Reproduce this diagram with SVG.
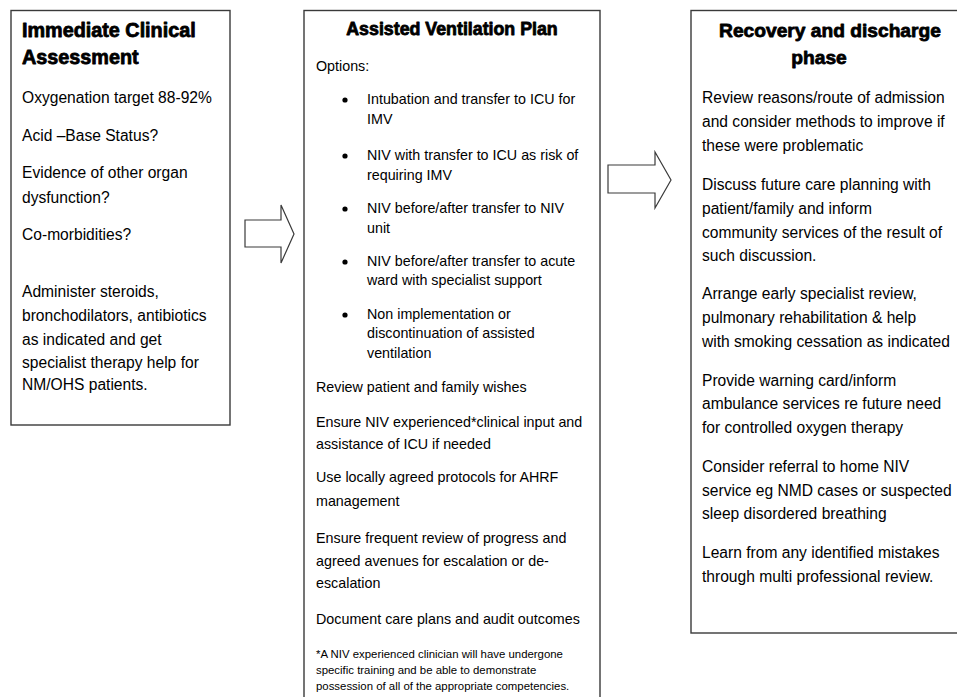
<svg xmlns="http://www.w3.org/2000/svg" width="957" height="697" viewBox="0 0 957 697">
<style>
.box{fill:#fff;stroke:#3a3a3a;stroke-width:1.4}
.arrow{fill:#fff;stroke:#3a3a3a;stroke-width:1.2;stroke-linejoin:miter}
.t{font-family:"Liberation Sans",Arial,sans-serif;font-weight:bold;fill:#000;stroke:#000;stroke-width:0.8;stroke-linejoin:round}
.b1{font-family:"Liberation Sans",Arial,sans-serif;font-size:15.6px;fill:#000}
.b2{font-family:"Liberation Sans",Arial,sans-serif;font-size:14.3px;fill:#000}
.fn{font-family:"Liberation Sans",Arial,sans-serif;font-size:11.4px;fill:#000}
</style>
<rect width="957" height="697" fill="#fff"/>
<g id="connectors">
<polygon class="arrow" points="245,220 281,220 281,205 294,234 281,263 281,247 245,247"/>
<polygon class="arrow" points="608,165 655,165 655,152 671,180 655,208 655,193 608,193"/>
</g>
<g id="assessment">
<rect class="box" x="11" y="10.5" width="219" height="414.5"/>
<text class="t" font-size="19.8" x="22" y="37">Immediate Clinical</text>
<text class="t" font-size="19.8" x="22" y="64">Assessment</text>
<text class="b1" x="22" y="103">Oxygenation target 88-92%</text>
<text class="b1" x="22" y="141">Acid –Base Status?</text>
<text class="b1" x="22" y="178">Evidence of other organ</text>
<text class="b1" x="22" y="203">dysfunction?</text>
<text class="b1" x="22" y="240">Co-morbidities?</text>
<text class="b1" x="22" y="297">Administer steroids,</text>
<text class="b1" x="22" y="321">bronchodilators, antibiotics</text>
<text class="b1" x="22" y="345">as indicated and get</text>
<text class="b1" x="22" y="368">specialist therapy help for</text>
<text class="b1" x="22" y="390">NM/OHS patients.</text>
</g>
<g id="ventilation">
<rect class="box" x="304" y="10.5" width="296" height="700"/>
<text class="t" font-size="17.8" x="452" y="35" text-anchor="middle">Assisted Ventilation Plan</text>
<text class="b2" x="316" y="71">Options:</text>
<g fill="#000">
<circle cx="345" cy="100" r="2.6"/>
<circle cx="345" cy="156" r="2.6"/>
<circle cx="345" cy="209" r="2.6"/>
<circle cx="345" cy="262" r="2.6"/>
<circle cx="345" cy="315" r="2.6"/>
</g>
<text class="b2" x="367" y="104">Intubation and transfer to ICU for</text>
<text class="b2" x="367" y="124">IMV</text>
<text class="b2" x="367" y="160">NIV with transfer to ICU as risk of</text>
<text class="b2" x="367" y="180">requiring IMV</text>
<text class="b2" x="367" y="213">NIV before/after transfer to NIV</text>
<text class="b2" x="367" y="233">unit</text>
<text class="b2" x="367" y="266">NIV before/after transfer to acute</text>
<text class="b2" x="367" y="285">ward with specialist support</text>
<text class="b2" x="367" y="319">Non implementation or</text>
<text class="b2" x="367" y="338">discontinuation of assisted</text>
<text class="b2" x="367" y="358">ventilation</text>
<text class="b2" x="316" y="392">Review patient and family wishes</text>
<text class="b2" x="316" y="427">Ensure NIV experienced*clinical input and</text>
<text class="b2" x="316" y="449">assistance of ICU if needed</text>
<text class="b2" x="316" y="482">Use locally agreed protocols for AHRF</text>
<text class="b2" x="316" y="506">management</text>
<text class="b2" x="316" y="543">Ensure frequent review of progress and</text>
<text class="b2" x="316" y="566">agreed avenues for escalation or de-</text>
<text class="b2" x="316" y="588">escalation</text>
<text class="b2" x="316" y="624">Document care plans and audit outcomes</text>
<text class="fn" x="316" y="658">*A NIV experienced clinician will have undergone</text>
<text class="fn" x="316" y="674">specific training and be able to demonstrate</text>
<text class="fn" x="316" y="690">possession of all of the appropriate competencies.</text>
</g>
<g id="recovery">
<rect class="box" x="691" y="10.5" width="280" height="622.5"/>
<text class="t" font-size="19.2" x="830" y="37" text-anchor="middle">Recovery and discharge</text>
<text class="t" font-size="19.2" x="819" y="64" text-anchor="middle">phase</text>
<text class="b1" x="702" y="103">Review reasons/route of admission</text>
<text class="b1" x="702" y="127">and consider methods to improve if</text>
<text class="b1" x="702" y="151">these were problematic</text>
<text class="b1" x="702" y="190">Discuss future care planning with</text>
<text class="b1" x="702" y="214">patient/family and inform</text>
<text class="b1" x="702" y="238">community services of the result of</text>
<text class="b1" x="702" y="261">such discussion.</text>
<text class="b1" x="702" y="299">Arrange early specialist review,</text>
<text class="b1" x="702" y="323">pulmonary rehabilitation &amp; help</text>
<text class="b1" x="702" y="347">with smoking cessation as indicated</text>
<text class="b1" x="702" y="386">Provide warning card/inform</text>
<text class="b1" x="702" y="409">ambulance services re future need</text>
<text class="b1" x="702" y="433">for controlled oxygen therapy</text>
<text class="b1" x="702" y="472">Consider referral to home NIV</text>
<text class="b1" x="702" y="496">service eg NMD cases or suspected</text>
<text class="b1" x="702" y="519">sleep disordered breathing</text>
<text class="b1" x="702" y="558">Learn from any identified mistakes</text>
<text class="b1" x="702" y="582">through multi professional review.</text>
</g>
</svg>
